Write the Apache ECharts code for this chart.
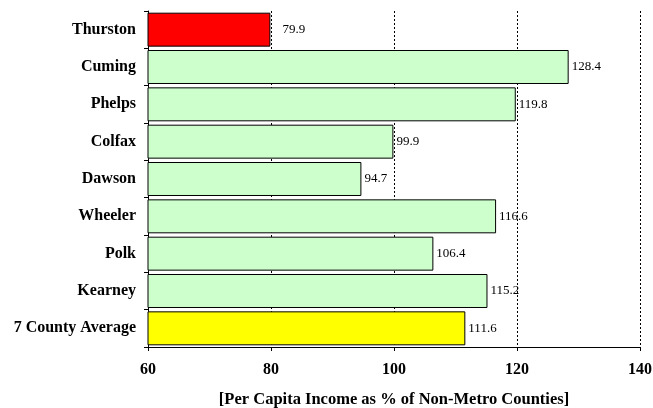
<!DOCTYPE html>
<html>
<head>
<meta charset="utf-8">
<script src="https://cdn.jsdelivr.net/npm/echarts@6/dist/echarts.min.js"></script>
<style>
  html, body { margin: 0; padding: 0; background: #fff; }
  #chart { width: 653px; height: 408px; }
</style>
</head>
<body>
<div id="chart"></div>
<script>
// counties, top to bottom
const counties = ['Thurston', 'Cuming', 'Phelps', 'Colfax', 'Dawson', 'Wheeler', 'Polk', 'Kearney', '7 County Average']
const incomePct = [79.9, 128.4, 119.8, 99.9, 94.7, 116.6, 106.4, 115.2, 111.6]
const xTicks = [60, 80, 100, 120, 140]

const barColor = function (i) {
  if (i === 0) return '#ff0000'
  if (i === counties.length - 1) return '#ffff00'
  return '#ccffcc'
}

const chart = echarts.init(document.getElementById('chart'))

const seriesData = incomePct.map((v, i) => {
  return {
    value: v,
    itemStyle: { color: barColor(i) },
    // excel pushed this one further out
    label: i === 0 ? { distance: 12 } : undefined,
  }
})

chart.setOption({
  animation: false,
  grid: { left: 148, right: 13, top: 11, bottom: 61, outerBoundsMode: 'none', containLabel: false },
  xAxis: {
    type: 'value',
    min: xTicks[0],
    max: xTicks[xTicks.length - 1],
    interval: 20,
    name: '[Per Capita Income as % of Non-Metro Counties]',
    nameLocation: 'middle',
    nameGap: 44,
    nameTextStyle: { fontFamily: 'Liberation Serif', fontWeight: 'bold', fontSize: 16.5, color: '#000' },
    axisLine: { show: true, lineStyle: { color: '#000', width: 1 } },
    axisTick: { show: true, length: 4, lineStyle: { color: '#000' } },
    axisLabel: { fontFamily: 'Liberation Serif', fontWeight: 'bold', fontSize: 16, color: '#000', margin: 15 },
    splitLine: { show: true, lineStyle: { color: '#000', type: [2, 2], width: 1 } },
  },
  yAxis: {
    type: 'category',
    data: counties,
    inverse: true,
    axisLine: { show: true, lineStyle: { color: '#000', width: 1 } },
    axisTick: { show: true, length: 4, lineStyle: { color: '#000' } },
    axisLabel: { fontFamily: 'Liberation Serif', fontWeight: 'bold', fontSize: 16, color: '#000', margin: 12 },
  },
  series: [
    {
      type: 'bar',
      data: seriesData,
      barCategoryGap: '9%',
      itemStyle: { borderColor: '#000', borderWidth: 1 },
      label: {
        show: true,
        position: 'right',
        distance: 3,
        fontFamily: 'Liberation Serif',
        fontSize: 13,
        color: '#000',
        formatter: (p) => p.value.toFixed(1),
      },
    },
  ],
})
</script>
</body>
</html>
